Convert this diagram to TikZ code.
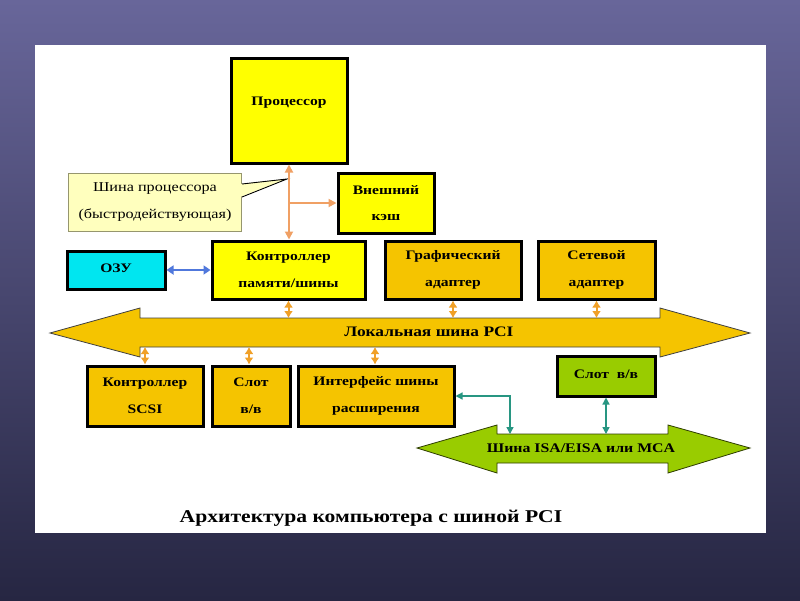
\documentclass[tikz,border=0pt]{standalone}
\usepackage{fontspec}
\setmainfont{Liberation Serif}[FakeStretch=1.2]
\usetikzlibrary{arrows.meta}
\definecolor{bgtop}{RGB}{104,102,154}
\definecolor{bgbot}{RGB}{38,38,66}
\definecolor{yel}{RGB}{255,255,0}
\definecolor{gold}{RGB}{245,196,0}
\definecolor{cyanb}{RGB}{0,230,240}
\definecolor{grn}{RGB}{153,204,0}
\definecolor{callfill}{RGB}{255,255,190}
\definecolor{callline}{RGB}{150,150,110}
\definecolor{salmon}{RGB}{240,160,100}
\definecolor{orng}{RGB}{240,160,40}
\definecolor{blu}{RGB}{80,120,220}
\definecolor{teal}{RGB}{40,150,130}
\tikzset{
  boxbase/.style={draw=black, line width=3pt, inner sep=0pt, align=center,
    font=\fontsize{13}{26.5}\selectfont\bfseries},
  ybox/.style={boxbase, fill=yel},
  gbox/.style={boxbase, fill=gold},
  cbox/.style={boxbase, fill=cyanb},
  grbox/.style={boxbase, fill=grn},
  txt/.style={inner sep=0pt, align=center, font=\fontsize{13}{26}\selectfont\bfseries},
  smallarr/.style={draw=orng, line width=2pt, {Latex[length=7pt,width=9pt]}-{Latex[length=7pt,width=9pt]}},
  busline/.style={draw=black!75, line width=0.8pt},
}
\begin{document}
\begin{tikzpicture}[x=1pt,y=-1pt]
\useasboundingbox (0,0) rectangle (800,600);
\shade[top color=bgtop, bottom color=bgbot] (0,0) rectangle (800,600);
\fill[white] (35,45) rectangle (766,533);

% processor
\node[ybox, minimum width=116pt, minimum height=105pt] (proc) at (289,110.5) {};
\node[txt] (proctext) at (289,103) {Процессор};

% callout
\path[fill=callfill, draw=callline, line width=1pt] (68,173) rectangle (241,231);
\coordinate (tip) at (287,179);
\fill[callfill] (240,184) -- (tip) -- (240,197) -- cycle;
\draw[black, line width=0.9pt] (242,184) -- (tip) -- (242,197);
\node[inner sep=0pt, font=\fontsize{13.5}{27}\selectfont, align=center] (call) at (155,202)
  {Шина процессора\\(быстродействующая)};

% cache
\node[ybox, minimum width=96pt, minimum height=60pt] (cache) at (386,203) {Внешний\\кэш};

% row of boxes
\node[ybox, minimum width=153pt, minimum height=58pt] (ctrl) at (288.5,270) {Контроллер\\памяти/шины};
\node[cbox, minimum width=98pt, minimum height=38pt] (ram) at (116,270) {\raisebox{3pt}{ОЗУ}};
\node[gbox, minimum width=136pt, minimum height=58pt] (gfx) at (453,270) {Графический\\адаптер};
\node[gbox, minimum width=117pt, minimum height=58pt] (net) at (596.5,270) {Сетевой\\адаптер};

% processor bus connectors
\coordinate (ctop) at (proc.south |- ctrl.north);
\coordinate (br) at (proc.south |- cache.west);
\draw[salmon, line width=1.8pt, {Triangle[length=8pt,width=8pt]}-{Triangle[length=8pt,width=8pt]}] (proc.south) -- (ctop);
\draw[salmon, line width=1.8pt, -{Triangle[length=8pt,width=8pt]}] (br) -- (cache.west);
\draw[blu, line width=2.2pt, {Triangle[length=7pt,width=9pt]}-{Triangle[length=7pt,width=9pt]}] (ram.east) -- (ctrl.west);

% PCI bus
\path[fill=gold, busline] (50,333) -- (140,308) -- (140,318) -- (660,318) -- (660,308)
  -- (750,333) -- (660,357) -- (660,347) -- (140,347) -- (140,357) -- cycle;
\node[txt, font=\fontsize{14.5}{16}\selectfont\bfseries] (pcitext) at (429,332) {Локальная шина PCI};

% bottom boxes
\node[gbox, minimum width=116pt, minimum height=60pt] (scsi) at (145,396) {Контроллер\\SCSI};
\node[gbox, minimum width=78pt, minimum height=60pt] (slot) at (251,396) {Слот\\в/в};
\node[gbox, minimum width=156pt, minimum height=60pt] (iface) at (376,396) {Интерфейс шины\\расширения};
\node[grbox, minimum width=98pt, minimum height=40pt] (gslot) at (606,376) {\raisebox{4pt}{Слот\ \ в/в}};

% PCI connectors
\draw[smallarr] (ctrl.south) -- (ctrl.south |- 0,318);
\draw[smallarr] (gfx.south) -- (gfx.south |- 0,318);
\draw[smallarr] (net.south) -- (net.south |- 0,318);
\coordinate (b1) at (145,347);
\coordinate (b2) at (249,347);
\coordinate (b3) at (375,347);
\draw[smallarr] (b1) -- (b1 |- scsi.north);
\draw[smallarr] (b2) -- (b2 |- slot.north);
\draw[smallarr] (b3) -- (b3 |- iface.north);

% ISA bus
\path[fill=grn, draw=black!70!grn, line width=0.8pt] (417,448) -- (497,425) -- (497,434) -- (668,434) -- (668,425)
  -- (750,448) -- (668,473) -- (668,463) -- (497,463) -- (497,473) -- cycle;
\node[txt, font=\fontsize{13.2}{16}\selectfont\bfseries] (isatext) at (581,448) {Шина ISA/EISA или MCA};

\coordinate (isa1) at (510,434);
\coordinate (isa2) at (606,434);
\draw[teal, line width=1.3pt, {Triangle[length=7pt,width=7pt]}-{Triangle[length=7pt,width=7pt]}] (iface.east) -| (isa1);
\draw[teal, line width=1.3pt, {Triangle[length=7pt,width=7pt]}-{Triangle[length=7pt,width=7pt]}] (gslot.south) -- (isa2);

% caption
\node[inner sep=0pt, font=\fontsize{18}{21}\selectfont\bfseries] (caption) at (371,518) {Архитектура компьютера с шиной PCI};
\end{tikzpicture}
\end{document}
